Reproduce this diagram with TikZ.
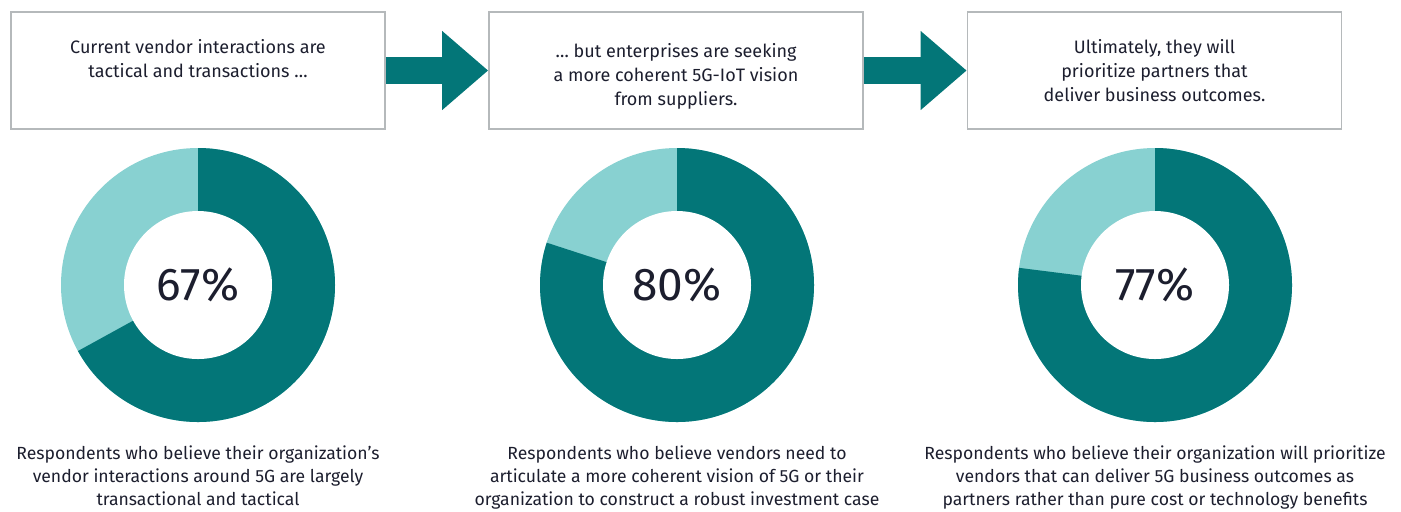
\documentclass[tikz,border=0pt]{standalone}
\usepackage{fontspec}
\setmainfont{Fira Sans}
\usetikzlibrary{arrows.meta, positioning}
\definecolor{tealdark}{HTML}{037678}
\definecolor{teallight}{HTML}{88D1D1}
\definecolor{inkblue}{HTML}{1C1E2E}
\definecolor{framegray}{HTML}{B5B9BB}

\begin{document}
\begin{tikzpicture}[x=0.5pt, y=0.5pt, font=\fontsize{9}{12}\selectfont, text=inkblue,
  box/.style = {draw=framegray, line width=0.8pt, minimum width=187pt, minimum height=58.5pt, inner sep=0pt},
  caption/.style = {align=center, anchor=north, inner sep=0pt},
  hole/.style = {circle, fill=white, minimum size=74pt, inner sep=0pt, font=\fontsize{23}{27}\selectfont},
  flow/.style = {draw=tealdark, line width=13.6pt, -{Triangle[length=23pt, width=38pt]}}]
  \useasboundingbox (0,0) rectangle (1401,-511);

  % boxes on top
  \node[box] (b1) at (198,-70.5) {};
  \node[box] (b2) at (676,-70.5) {};
  \node[box] (b3) at (1154.5,-70.5) {};
  \node[caption, below=14pt of b1.north] (t1) {Current vendor interactions are\\tactical and transactions \ldots};
  \node[caption, below=16pt of b2.north] (t2) {\ldots{} but enterprises are seeking\\a more coherent 5G-IoT vision\\from suppliers.};
  \node[caption, below=14pt of b3.north] (t3) {Ultimately, they will\\prioritize partners that\\deliver business outcomes.};

  \draw[flow] (b1.east) -- (b2.west);
  \draw[flow] (b2.east) -- (b3.west);

  % donut 1
  \coordinate (c1) at (198,-285);
  \fill[teallight] (c1) circle[radius=137];
  \fill[tealdark] (c1) -- ++(0,137) arc[start angle=90, end angle=-151.2, radius=137] -- cycle;
  \node[hole] (p1) at (c1) {67\%};
  \node[caption, font=\fontsize{8.8}{11.6}\selectfont] (r1) at (198,-445) {Respondents who believe their organization's\\vendor interactions around 5G are largely\\transactional and tactical};

  % donut 2
  \coordinate (c2) at (677,-285);
  \fill[teallight] (c2) circle[radius=137];
  \fill[tealdark] (c2) -- ++(0,137) arc[start angle=90, end angle=-198, radius=137] -- cycle;
  \node[hole] (p2) at (c2) {80\%};
  \node[caption, font=\fontsize{8.8}{11.6}\selectfont] (r2) at (677,-445) {Respondents who believe vendors need to\\articulate a more coherent vision of 5G or their\\organization to construct a robust investment case};

  % donut 3
  \coordinate (c3) at (1155,-285);
  \fill[teallight] (c3) circle[radius=137];
  \fill[tealdark] (c3) -- ++(0,137) arc[start angle=90, end angle=-187.2, radius=137] -- cycle;
  \node[hole] (p3) at (c3) {77\%};
  \node[caption, font=\fontsize{8.8}{11.6}\selectfont] (r3) at (1155,-445) {Respondents who believe their organization will prioritize\\vendors that can deliver 5G business outcomes as\\partners rather than pure cost or technology benefits};
\end{tikzpicture}
\end{document}
